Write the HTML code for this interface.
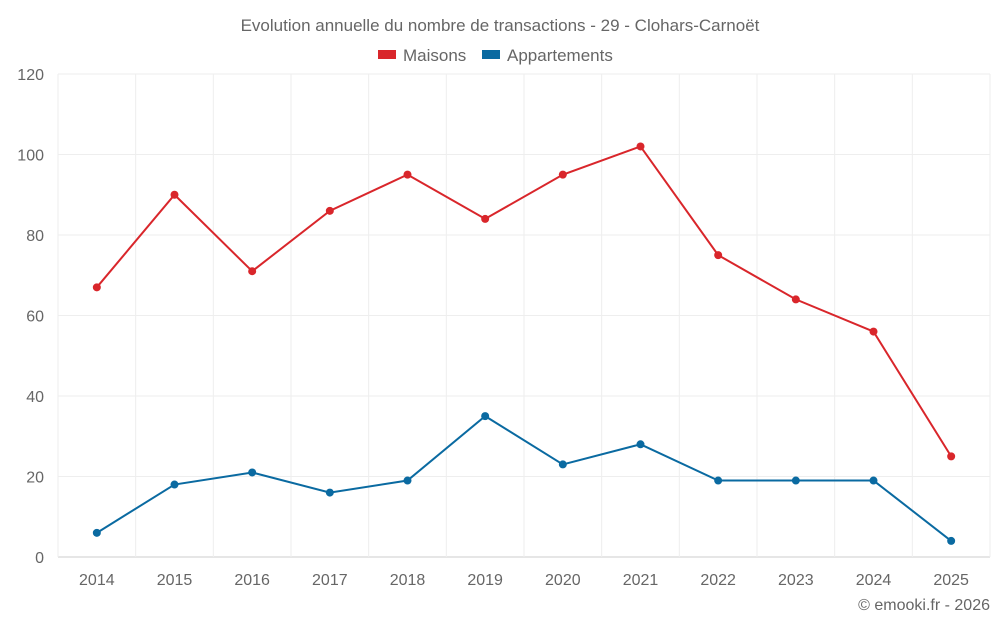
<!DOCTYPE html>
<html><head><meta charset="utf-8"><style>
body{margin:0;background:#fff;font-family:"Liberation Sans",sans-serif;}
svg text{font-family:"Liberation Sans",sans-serif;fill:#666;}
</style></head><body>
<svg id="chart" width="1000" height="625">
<text x="500" y="31" text-anchor="middle" font-size="17">Evolution annuelle du nombre de transactions - 29 - Clohars-Carnoët</text>
<g>
<rect x="378" y="50" width="18" height="9" fill="#d9262b"></rect>
<text x="403" y="61" font-size="17">Maisons</text>
<rect x="482" y="50" width="18" height="9" fill="#0a6aa1"></rect>
<text x="507" y="61" font-size="17">Appartements</text>
</g>
<g id="grid"></g><g id="axes"></g><g id="series"></g>
<text x="990" y="610" text-anchor="end" font-size="16">© emooki.fr - 2026</text>
</svg>
<script>
const categories=["2014","2015","2016","2017","2018","2019","2020","2021","2022","2023","2024","2025"];
const maisons=[67,90,71,86,95,84,95,102,75,64,56,25];
const appartements=[6,18,21,16,19,35,23,28,19,19,19,4];
const yTicks=[0,20,40,60,80,100,120];
const NS="http://www.w3.org/2000/svg";
const L=58,R=990,T=74,B=557,yMax=120;
const step=(R-L)/categories.length;
const x=i=>L+step*(i+0.5);
const y=v=>B-(v/yMax)*(B-T);
function mk(tag,attrs,parent,txt){const e=document.createElementNS(NS,tag);for(const k in attrs)e.setAttribute(k,attrs[k]);if(txt!==undefined)e.textContent=txt;parent.appendChild(e);return e;}
const grid=document.getElementById('grid'),axes=document.getElementById('axes'),ser=document.getElementById('series');
yTicks.forEach(t=>{
 const l=mk('line',{x1:L,x2:R,y1:y(t),y2:y(t),stroke:t===0?'#ccc':'#eee'},grid);
 
 
 const tx=mk('text',{x:44,y:y(t)+6,'text-anchor':'end','font-size':16},axes,t);
 
 
});
for(let i=0;i<=categories.length;i++){
 const l=mk('line',{x1:L+step*i,x2:L+step*i,y1:T,y2:B,stroke:'#eee'},grid);
 
 
}
categories.forEach((c,i)=>{
 const tx=mk('text',{x:x(i),y:585,'text-anchor':'middle','font-size':16},axes,c);
 
 
});
function draw(vals,color,name){
 const p=mk('polyline',{points:vals.map((v,i)=>x(i)+','+y(v)).join(' '),fill:'none',stroke:color,'stroke-width':2},ser);
 
 
 vals.forEach((v,i)=>{
  const c=mk('circle',{cx:x(i),cy:y(v),r:4,fill:color},ser);
  
  
 });
}
draw(maisons,'#d9262b','maisons');
draw(appartements,'#0a6aa1','appartements');
</script>
</body></html>
